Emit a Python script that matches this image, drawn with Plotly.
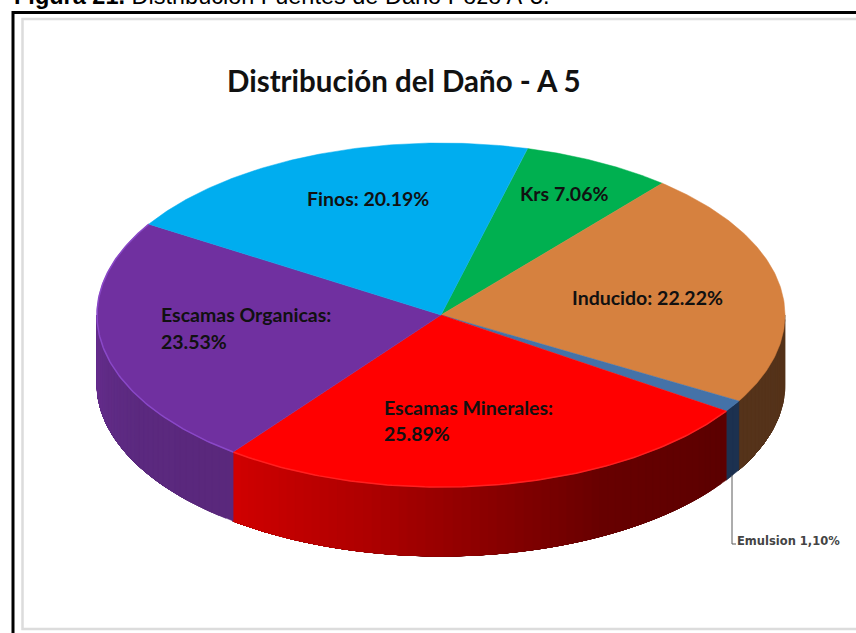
"""Tilted 3D-style pie: damage distribution for well A-5."""

import numpy as np
import plotly.graph_objects as go

SLICE_NAMES = ["Krs", "Inducido", "Emulsion", "Escamas Minerales", "Escamas Organicas", "Finos"]
SLICE_PCT = [7.06, 22.22, 1.10, 25.89, 23.53, 20.19]
TOP_COLORS = ["#00b050", "#d6813f", "#4472a8", "#ff0000", "#7030a0", "#00adef"]
WALL_STOPS = {
    "Inducido": [(0.0, "#55331a"), (1.0, "#55331a")],
    "Emulsion": [(0.0, "#1c3150"), (1.0, "#1c3150")],
    "Escamas Minerales": [(0.0, "#5c0000"), (0.3, "#680000"), (0.75, "#b00000"), (1.0, "#d00000")],
    "Escamas Organicas": [(0.0, "#5a287c"), (0.5, "#5c2a80"), (1.0, "#662e8e")],
}
RIM_COLORS = {"Escamas Organicas": "#8a48c8", "Escamas Minerales": "#ff2020"}

CAPTION_BOLD = "Figura 21."
CAPTION = "Distribución Fuentes de Daño Pozo A-5."
TITLE = "Distribución del Daño - A 5"

CX, CY, RX, RY, DEPTH = 441, 315, 344, 172, 69
START_DEG = 14.6


def rim(angle_deg, drop=0.0):
    a = np.radians(angle_deg)
    return CX + RX * np.sin(a), CY - RY * np.cos(a) + drop


def hex_rgb(color):
    return np.array([int(color[i:i + 2], 16) for i in (1, 3, 5)], dtype=float)


def stop_color(stops, t):
    for (t0, c0), (t1, c1) in zip(stops, stops[1:]):
        if t <= t1:
            f = (t - t0) / (t1 - t0)
            rgb = hex_rgb(c0) * (1 - f) + hex_rgb(c1) * f
            return "rgb(%d,%d,%d)" % tuple(rgb)
    return stops[-1][1]


def poly(x, y, color):
    return go.Scatter(
        x=x, y=y, mode="lines", fill="toself", fillcolor=color,
        line=dict(color=color, width=0.5), hoverinfo="skip", showlegend=False,
    )


ends = START_DEG + np.cumsum(SLICE_PCT) * 3.6
starts = ends - np.array(SLICE_PCT) * 3.6

fig = go.Figure()

# side wall, lower half only; each strip runs to the end of its slice so no seams show
for name, a0, a1 in zip(SLICE_NAMES, starts, ends):
    if name not in WALL_STOPS:
        continue
    lo, hi = max(a0, 90), min(a1, 270)
    steps = max(2, int((hi - lo) / 1.5))
    edges = np.linspace(lo, hi, steps + 1)
    for i in range(steps):
        arc = np.linspace(edges[i], hi, 40)
        xt, yt = rim(arc)
        xb, yb = rim(arc[::-1], DEPTH)
        color = stop_color(WALL_STOPS[name], i / max(steps - 1, 1))
        fig.add_trace(poly(np.r_[xt, xb, xt[0]], np.r_[yt, yb, yt[0]], color))

# top face
for name, a0, a1, color in zip(SLICE_NAMES, starts, ends, TOP_COLORS):
    arc = np.linspace(a0, a1, 120)
    xa, ya = rim(arc)
    fig.add_trace(poly(np.r_[CX, xa, CX], np.r_[CY, ya, CY], color))
    if name in RIM_COLORS:
        fig.add_trace(go.Scatter(
            x=xa, y=ya, mode="lines", line=dict(color=RIM_COLORS[name], width=1.5),
            hoverinfo="skip", showlegend=False,
        ))

# frames around the pasted picture, both run off the right side of the page
fig.add_shape(type="rect", x0=22.5, y0=19, x1=880, y1=629, line=dict(color="#dcdcdc", width=2.5), layer="below")
fig.add_shape(type="rect", x0=13, y0=12.5, x1=880, y1=670, line=dict(color="#000000", width=3), layer="above")

# leader line for the thin slice
emul_mid = rim((starts[2] + ends[2]) / 2, DEPTH)
fig.add_trace(go.Scatter(
    x=[732, 732, 736], y=[emul_mid[1], 544, 544], mode="lines",
    line=dict(color="#5a5a5a", width=1), hoverinfo="skip", showlegend=False,
))

label_font = dict(family="Lato", size=19.5, color="#111111", weight="bold")
lines = [
    (f"{SLICE_NAMES[5]}: {SLICE_PCT[5]:.2f}%", 305, 198),
    (f"{SLICE_NAMES[0]} {SLICE_PCT[0]:.2f}%", 518, 193),
    (f"{SLICE_NAMES[1]}: {SLICE_PCT[1]:.2f}%", 570, 297),
    (f"{SLICE_NAMES[4]}:", 159, 314),
    (f"{SLICE_PCT[4]:.2f}%", 159, 341),
    (f"{SLICE_NAMES[3]}:", 382, 407),
    (f"{SLICE_PCT[3]:.2f}%", 382, 433),
]
for text, x, y in lines:
    fig.add_annotation(x=x, y=y, text=text, showarrow=False, xanchor="left", yanchor="middle", font=label_font)

fig.add_annotation(
    x=735, y=541, text="Emulsion 1,10%", showarrow=False, xanchor="left", yanchor="middle",
    font=dict(family="DejaVu Sans", size=11.5, color="#444444", weight="bold"),
)
fig.add_annotation(
    x=225, y=80, text=TITLE, showarrow=False, xanchor="left", yanchor="middle",
    font=dict(family="Lato", size=29.5, color="#111111", weight="bold"),
)
fig.add_annotation(
    x=12, y=11, text=f"<b>{CAPTION_BOLD}</b> {CAPTION}", showarrow=False, xanchor="left", yanchor="bottom",
    font=dict(family="Liberation Sans", size=23.5, color="#000000"),
)

fig.update_layout(
    width=856, height=633, margin=dict(l=0, r=0, t=0, b=0),
    paper_bgcolor="white", plot_bgcolor="white", showlegend=False,
    xaxis=dict(range=[0, 856], visible=False),
    yaxis=dict(range=[633, 0], visible=False),
)
fig.write_html("out.html", config={"displayModeBar": False},
               post_script="document.body.style.margin='0';document.body.style.overflow='hidden';")
